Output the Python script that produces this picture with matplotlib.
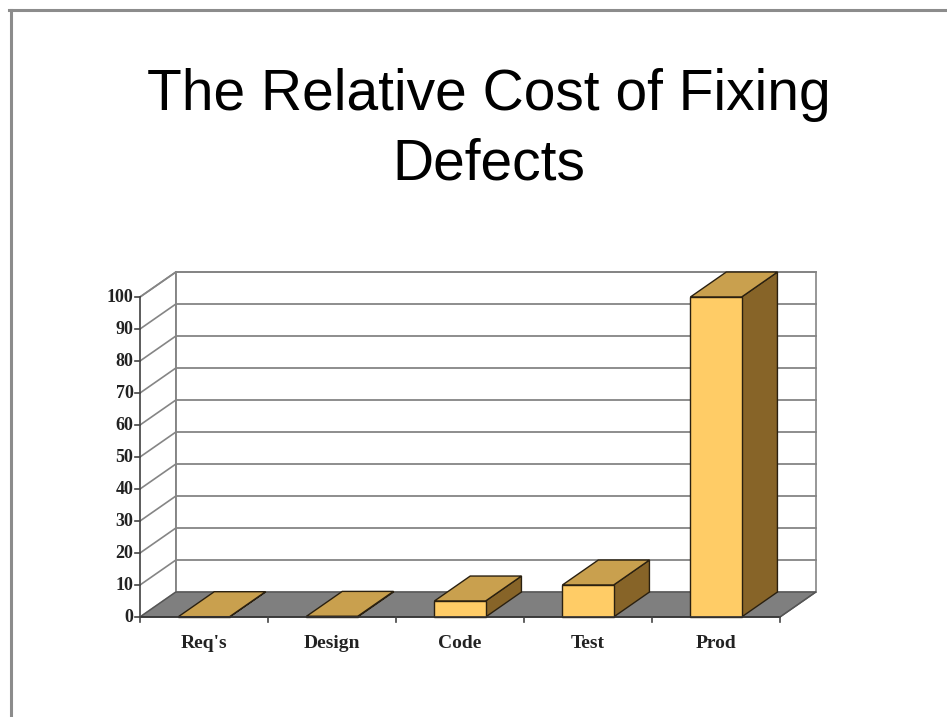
import matplotlib
matplotlib.use("Agg")
import matplotlib.pyplot as plt
from matplotlib.patches import Polygon, Rectangle
from matplotlib.lines import Line2D

# data
categories = ["Req's", "Design", "Code", "Test", "Prod"]
costs = [0.1, 0.2, 5, 10, 100]
y_ticks = list(range(0, 101, 10))

# pseudo 3d look
DX = 0.28      # depth offset in category units
DY = 7.8       # depth offset in value units
BAR_W = 0.40
FRONT = "#FFCC66"
TOP = "#C9A04E"
SIDE = "#876428"
FLOOR = "#7f7f7f"
GRID = "#858585"
EDGE = "#2a2010"

fig = plt.figure(figsize=(9.47, 7.17), dpi=100)
fig.patch.set_facecolor("white")

# slide border
fig.add_artist(Line2D([0.009, 1.0], [0.986, 0.986], transform=fig.transFigure,
                      color="#8c8c8c", lw=2.2))
fig.add_artist(Line2D([0.012, 0.012], [0.0, 0.986], transform=fig.transFigure,
                      color="#8c8c8c", lw=2.2))

fig.text(0.516, 1 - 110 / 717, "The Relative Cost of Fixing", ha="center", va="baseline",
         fontsize=41, family="Liberation Sans")
fig.text(0.516, 1 - 180 / 717, "Defects", ha="center", va="baseline",
         fontsize=41, family="Liberation Sans")

# axes = the front plane of the chart
ax = fig.add_axes([140 / 947, 1 - 617 / 717, 640 / 947, 320 / 717])
ax.set_xlim(0, len(categories))
ax.set_ylim(0, 100)
ax.axis("off")

n = len(categories)

# back wall
ax.add_patch(Rectangle((DX, DY), n, 100, facecolor="white", edgecolor=GRID, lw=1.2,
                       clip_on=False, zorder=1))
# left wall
ax.add_patch(Polygon([(0, 0), (DX, DY), (DX, 100 + DY), (0, 100)], closed=True,
                     facecolor="white", edgecolor=GRID, lw=1.2, clip_on=False, zorder=1))
for v in y_ticks[1:]:
    ax.plot([DX, n + DX], [v + DY, v + DY], color=GRID, lw=1.3, clip_on=False, zorder=2)
    ax.plot([0, DX], [v, v + DY], color=GRID, lw=1.2, clip_on=False, zorder=2)

# floor
ax.add_patch(Polygon([(0, 0), (n, 0), (n + DX, DY), (DX, DY)], closed=True,
                     facecolor=FLOOR, edgecolor="#555555", lw=1.0, clip_on=False, zorder=3))

# bars
for i, v in enumerate(costs):
    x0 = i + (1 - BAR_W) / 2
    x1 = x0 + BAR_W
    ax.add_patch(Polygon([(x1, 0), (x1 + DX, DY), (x1 + DX, v + DY), (x1, v)], closed=True,
                         facecolor=SIDE, edgecolor=EDGE, lw=1.0, clip_on=False, zorder=4))
    ax.add_patch(Polygon([(x0, v), (x1, v), (x1 + DX, v + DY), (x0 + DX, v + DY)], closed=True,
                         facecolor=TOP, edgecolor=EDGE, lw=1.0, clip_on=False, zorder=4))
    ax.add_patch(Rectangle((x0, 0), BAR_W, v, facecolor=FRONT, edgecolor=EDGE, lw=1.0,
                           clip_on=False, zorder=5))

# front axis lines
ax.plot([0, 0], [0, 100], color="#555555", lw=1.2, clip_on=False, zorder=6)
ax.plot([0, n], [0, 0], color="#333333", lw=1.2, clip_on=False, zorder=6)
ax.plot([n, n + DX], [0, DY], color="#555555", lw=1.0, clip_on=False, zorder=6)

tick_dx = 5 / 128.0
tick_dy = 5 / 3.2
for v in y_ticks:
    ax.plot([-tick_dx, 0], [v, v], color="#444444", lw=1.2, clip_on=False, zorder=6)
    ax.text(-tick_dx - 0.012, v, str(v), ha="right", va="center", fontsize=13,
            family="Liberation Serif", fontweight="bold", color="#222222")
for i in range(n + 1):
    ax.plot([i, i], [0, -tick_dy], color="#444444", lw=1.2, clip_on=False, zorder=6)
for i, c in enumerate(categories):
    ax.text(i + 0.5, -9.7, c, ha="center", va="baseline", fontsize=14,
            family="Liberation Serif", fontweight="bold", color="#222222")

fig.savefig("out.png", dpi=100)
